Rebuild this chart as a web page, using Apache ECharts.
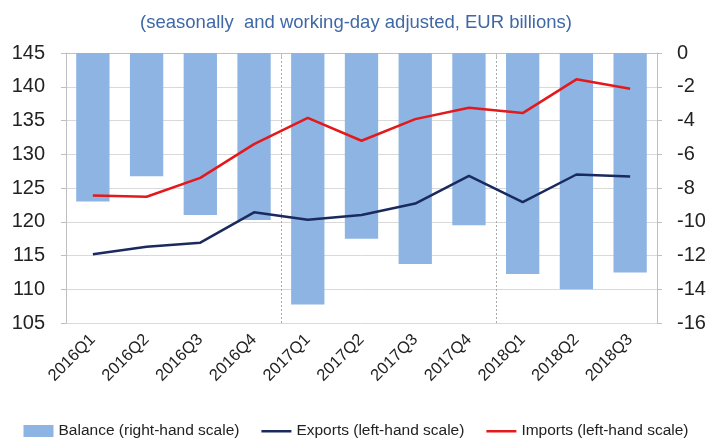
<!DOCTYPE html>
<html><head><meta charset="utf-8">
<script src="https://cdn.jsdelivr.net/npm/echarts@6/dist/echarts.min.js"></script>
<style>html,body{margin:0;padding:0;background:#fff}#c{width:712px;height:438px}</style>
</head><body><div id="c"></div>
<script>
const categories = ['2016Q1','2016Q2','2016Q3','2016Q4','2017Q1','2017Q2','2017Q3','2017Q4','2018Q1','2018Q2','2018Q3'];
const balance = [-8.8,-7.3,-9.6,-9.9,-14.9,-11.0,-12.5,-10.2,-13.1,-14.0,-13.0];
const exportsV = [115.2,116.3,116.9,121.4,120.3,121.0,122.7,126.8,122.9,127.0,126.7];
const importsV = [123.9,123.7,126.5,131.5,135.4,132.0,135.2,136.9,136.1,141.1,139.7];
const yearBreaks = [4, 8];
const chart = echarts.init(document.getElementById('c'));
const font = 'Liberation Sans, Arial, sans-serif';
const lineIcon = 'path://M0,5H30V7.4H0Z M0,0H0.01V0.01H0Z M0,12H0.01V12.01H0Z';
chart.setOption({
  animation: false,
  title: { text: '(seasonally  and working-day adjusted, EUR billions)', left: 'center', top: 8,
    textStyle: { color: '#3F68A6', fontSize: 18.5, fontWeight: 'normal', fontFamily: font } },
  grid: { left: 66, right: 55, top: 53, bottom: 115 },
  legend: { top: 418, left: 'center', itemGap: 22, itemWidth: 30, itemHeight: 12,
    textStyle: { fontSize: 15.5, color: '#222', fontFamily: font },
    data: [
      { name: 'Balance (right-hand scale)', icon: 'rect' },
      { name: 'Exports (left-hand scale)', icon: lineIcon },
      { name: 'Imports (left-hand scale)', icon: lineIcon }
    ] },
  xAxis: {
    type: 'category', data: categories, boundaryGap: true,
    axisLine: { lineStyle: { color: '#BFBFBF' } },
    axisTick: { show: true, alignWithLabel: false, interval: (i) => yearBreaks.includes(i), lineStyle: { color: '#BFBFBF' } },
    axisLabel: { rotate: 45, fontSize: 16.5, color: '#222', fontFamily: font, margin: 14, interval: 0 },
    splitLine: { show: true, interval: (i) => yearBreaks.includes(i), lineStyle: { color: '#AAAAAA', type: [2, 2], width: 1 } }
  },
  yAxis: [
    { type: 'value', min: 105, max: 145, interval: 5, position: 'left',
      axisLine: { show: true, lineStyle: { color: '#BFBFBF' } },
      axisTick: { show: true, lineStyle: { color: '#BFBFBF' } },
      axisLabel: { fontSize: 20, color: '#222', fontFamily: font, margin: 21 },
      splitLine: { lineStyle: { color: '#D9D9D9' } } },
    { type: 'value', min: -16, max: 0, interval: 2, position: 'right',
      axisLine: { show: true, lineStyle: { color: '#BFBFBF' } },
      axisTick: { show: true, lineStyle: { color: '#BFBFBF' } },
      axisLabel: { fontSize: 20, color: '#222', fontFamily: font, margin: 20 },
      splitLine: { show: false } }
  ],
  series: [
    { name: 'Balance (right-hand scale)', type: 'bar', yAxisIndex: 1, data: balance, barWidth: '62%',
      itemStyle: { color: '#8DB4E2' } },
    { name: 'Exports (left-hand scale)', type: 'line', yAxisIndex: 0, data: exportsV, symbol: 'none',
      lineStyle: { color: '#1B2A5E', width: 2.5 }, itemStyle: { color: '#1B2A5E' } },
    { name: 'Imports (left-hand scale)', type: 'line', yAxisIndex: 0, data: importsV, symbol: 'none',
      lineStyle: { color: '#E3191B', width: 2.5 }, itemStyle: { color: '#E3191B' } }
  ]
});
</script></body></html>
